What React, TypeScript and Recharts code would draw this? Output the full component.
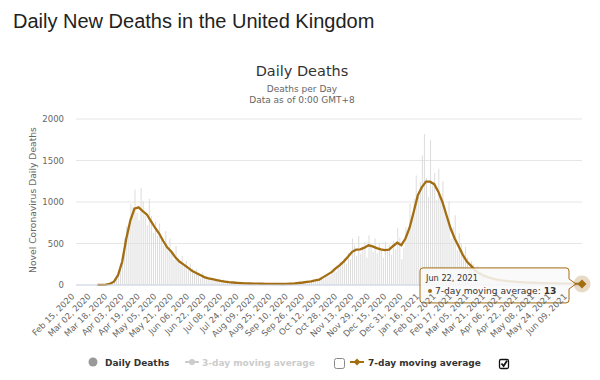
import { ComposedChart, Bar, Line, XAxis, YAxis, CartesianGrid } from 'recharts';

const LINE_COLOR = '#a36d12';
const AXIS_FONT = '"DejaVu Sans", "Lucida Grande", sans-serif';

// axis labels, one every 16 days from Feb 15, 2020 (day 0)
const TICK_LABELS = [
  'Feb 15, 2020', 'Mar 02, 2020', 'Mar 18, 2020', 'Apr 03, 2020', 'Apr 19, 2020', 'May 05, 2020',
  'May 21, 2020', 'Jun 06, 2020', 'Jun 22, 2020', 'Jul 08, 2020', 'Jul 24, 2020', 'Aug 09, 2020',
  'Aug 25, 2020', 'Sep 10, 2020', 'Sep 26, 2020', 'Oct 12, 2020', 'Oct 28, 2020', 'Nov 13, 2020',
  'Nov 29, 2020', 'Dec 15, 2020', 'Dec 31, 2020', 'Jan 16, 2021', 'Feb 01, 2021', 'Feb 17, 2021',
  'Mar 05, 2021', 'Mar 21, 2021', 'Apr 06, 2021', 'Apr 22, 2021', 'May 08, 2021', 'May 24, 2021',
  'Jun 09, 2021',
];
const TICK_STEP = 16;
const LAST_DATE = 'Jun 22, 2021';

// daily deaths, every other day from Feb 16, 2020 (day 1) to Jun 22, 2021 (day 493)
const dailyDeaths = [
  0, 0, 0, 0, 0, 0, 0, 0, 0, 1,
  1, 2, 1, 4, 10, 16, 33, 41, 56, 87,
  180, 260, 380, 560, 710, 690, 980, 940, 1150, 870,
  780, 1170, 1010, 860, 720, 1040, 830, 630, 760, 590,
  740, 560, 480, 650, 420, 560, 380, 300, 470, 330,
  240, 350, 230, 290, 180, 260, 200, 130, 190, 150,
  80, 150, 110, 70, 90, 85, 55, 75, 60, 45,
  40, 65, 45, 30, 38, 25, 32, 20, 30, 24,
  18, 26, 16, 20, 12, 22, 15, 18, 12, 16,
  14, 10, 18, 12, 16, 9, 14, 13, 11, 16,
  10, 14, 12, 18, 13, 20, 16, 22, 28, 24,
  34, 28, 40, 46, 38, 52, 60, 48, 70, 82,
  70, 110, 140, 105, 170, 200, 160, 230, 280, 260,
  320, 260, 390, 310, 560, 480, 350, 590, 380, 460,
  520, 330, 600, 470, 400, 560, 380, 510, 430, 330,
  520, 400, 480, 360, 530, 430, 690, 570, 310, 450,
  700, 640, 980, 830, 1040, 1320, 1060, 1240, 1560, 1820,
  1290, 1060, 1750, 1200, 1350, 1020, 1400, 1010, 1250, 930,
  820, 1010, 560, 700, 840, 420, 620, 500, 330, 460,
  330, 190, 290, 250, 160, 230, 120, 180, 110, 150,
  100, 60, 110, 80, 45, 75, 60, 35, 64, 50,
  40, 52, 30, 45, 38, 26, 42, 35, 22, 33,
  30, 18, 35, 25, 20, 29, 22, 15, 27, 19,
  18, 12, 24, 17, 11, 20, 16, 10, 21, 14,
  12, 9, 19, 13, 8, 15, 11,
];

// 7-day moving average, every 4th day from day 1
const avg7: (number | null)[] = [
  null, null, null, null, null,
  1, 2, 5, 15, 40, 120, 280, 560, 780, 920,
  935, 890, 850, 770, 690, 620, 530, 450, 400, 330,
  280, 245, 210, 170, 145, 120, 95, 80, 70, 60,
  50, 42, 35, 30, 26, 23, 20, 18, 17, 16,
  15, 14, 14, 13, 13, 12, 13, 15, 18, 24,
  30, 38, 45, 55, 65, 95, 125, 155, 200, 240,
  285, 340, 400, 425, 430, 450, 478, 465, 445, 430,
  420, 425, 470, 510, 480, 560, 690, 880, 1080, 1180,
  1245, 1245, 1215, 1125, 1000, 840, 680, 560, 460, 360,
  280, 230, 175, 140, 115, 95, 80, 68, 58, 52,
  46, 42, 38, 34, 31, 29, 27, 25, 23, 21,
  20, 19, 18, 17, 16, 15, 14, 13, 13,
];

const data = dailyDeaths.map((d, i) => ({
  day: 1 + 2 * i,
  deaths: d,
  avg: i % 2 === 0 ? avg7[i / 2] : null,
}));
const lastIndex = data.length - 1;
const xTicks = TICK_LABELS.map((_, i) => i * TICK_STEP);

const XTick = ({ x, y, payload }: any) => {
  const tx = x - 1;
  const ty = y + 10;
  return (
    <text x={tx} y={ty} transform={`rotate(-45 ${tx} ${ty})`} textAnchor="end"
      fontSize={8.5} fill="#666" fontFamily={AXIS_FONT}>
      {TICK_LABELS[Math.round(payload.value / TICK_STEP)]}
    </text>
  );
};

// hovered last point: halo, diamond marker and the tooltip callout
const renderDot = (props: any) => {
  const { cx, cy, index, value } = props;
  if (index !== lastIndex || cx == null || cy == null) return <g key={`d${index}`} />;
  const l = cx - 162, r = cx - 13, t = cy - 16, b = cy + 19;
  const box = `M${l + 3},${t} L${r - 3},${t} Q${r},${t} ${r},${t + 3} L${r},${cy - 5} L${cx - 6},${cy} L${r},${cy + 5} L${r},${b - 3} Q${r},${b} ${r - 3},${b} L${l + 3},${b} Q${l},${b} ${l},${b - 3} L${l},${t + 3} Q${l},${t} ${l + 3},${t} Z`;
  const v = Array.isArray(value) ? value[1] : value;
  return (
    <g key={`d${index}`}>
      <path d={box} fill="rgba(249,249,249,0.86)" stroke={LINE_COLOR} strokeWidth={1} />
      <text x={l + 6} y={t + 13} fontSize={8.2} fill="#333" fontFamily={AXIS_FONT}>{LAST_DATE}</text>
      <circle cx={l + 10} cy={t + 23} r={2} fill={LINE_COLOR} />
      <text x={l + 15} y={t + 26} fontSize={9.1} fill="#333" fontFamily={AXIS_FONT}>
        7-day moving average: <tspan fontWeight="bold">{v}</tspan>
      </text>
      <circle cx={cx} cy={cy} r={8.5} fill={LINE_COLOR} fillOpacity={0.25} />
      <path d={`M${cx},${cy - 4.5} L${cx + 4.5},${cy} L${cx},${cy + 4.5} L${cx - 4.5},${cy} Z`} fill={LINE_COLOR} />
    </g>
  );
};

export default function App() {
  return (
    <div style={{ position: 'absolute', left: 0, top: 0, width: 600, height: 380, background: '#fff' }}>
      <ComposedChart width={600} height={380} data={data}
        margin={{ top: 119, right: 18, bottom: 35, left: 0 }}>
        <CartesianGrid vertical={false} stroke="#e6e6e6" />
        <XAxis type="number" dataKey="day" domain={[0, data[lastIndex].day]} ticks={xTicks} interval={0}
          tick={<XTick />} tickLine={false} tickSize={0} axisLine={{ stroke: '#ccd6eb' }} height={60} />
        <YAxis domain={[0, 2000]} ticks={[0, 500, 1000, 1500, 2000]} width={76} axisLine={false} tickLine={false}
          tickSize={6} tickMargin={6} tick={{ fontSize: 8.5, fill: '#666', fontFamily: AXIS_FONT }} />
        <Bar dataKey="deaths" fill="#dcdcdc" barSize={1} isAnimationActive={false} />
        <Line dataKey="avg" type="linear" stroke={LINE_COLOR} strokeWidth={2.3} connectNulls
          dot={renderDot} activeDot={false} isAnimationActive={false} />
      </ComposedChart>

      <svg width={600} height={380} style={{ position: 'absolute', left: 0, top: 0, pointerEvents: 'none' }}>
        <text x={13} y={28} fontSize={20} fill="#222" fontFamily='"Liberation Sans", Arial, sans-serif'>
          Daily New Deaths in the United Kingdom
        </text>
        <g fontFamily={AXIS_FONT} textAnchor="middle">
          <text x={302} y={76} fontSize={14.5} fill="#333">Daily Deaths</text>
          <text x={302} y={92} fontSize={9} fill="#666">Deaths per Day</text>
          <text x={302} y={103} fontSize={9} fill="#666">Data as of 0:00 GMT+8</text>
          <text x={36} y={200} transform="rotate(-90 36 200)" fontSize={9.2} fill="#666">
            Novel Coronavirus Daily Deaths
          </text>
        </g>
        <g fontFamily={AXIS_FONT} fontSize={9} fontWeight="bold">
          <circle cx={93} cy={362} r={4.5} fill="#999" />
          <text x={105} y={366} fill="#333">Daily Deaths</text>
          <line x1={185} x2={199} y1={362} y2={362} stroke="#ccc" strokeWidth={2} />
          <circle cx={192} cy={362} r={3} fill="#ccc" />
          <text x={202} y={366} fill="#ccc">3-day moving average</text>
          <rect x={334.5} y={358.5} width={10} height={10} rx={2} fill="#fff" stroke="#888" />
          <line x1={350} x2={364} y1={362} y2={362} stroke={LINE_COLOR} strokeWidth={2} />
          <path d="M357,358.5 L360.5,362 L357,365.5 L353.5,362 Z" fill={LINE_COLOR} />
          <text x={368} y={366} fill="#333">7-day moving average</text>
          <rect x={499.5} y={359.5} width={9} height={9} rx={1.5} fill="#fff" stroke="#111" strokeWidth={1.3} />
          <path d="M501.5,363.5 L503.6,366 L507,360.8" fill="none" stroke="#111" strokeWidth={1.8} />
        </g>
      </svg>
    </div>
  );
}
